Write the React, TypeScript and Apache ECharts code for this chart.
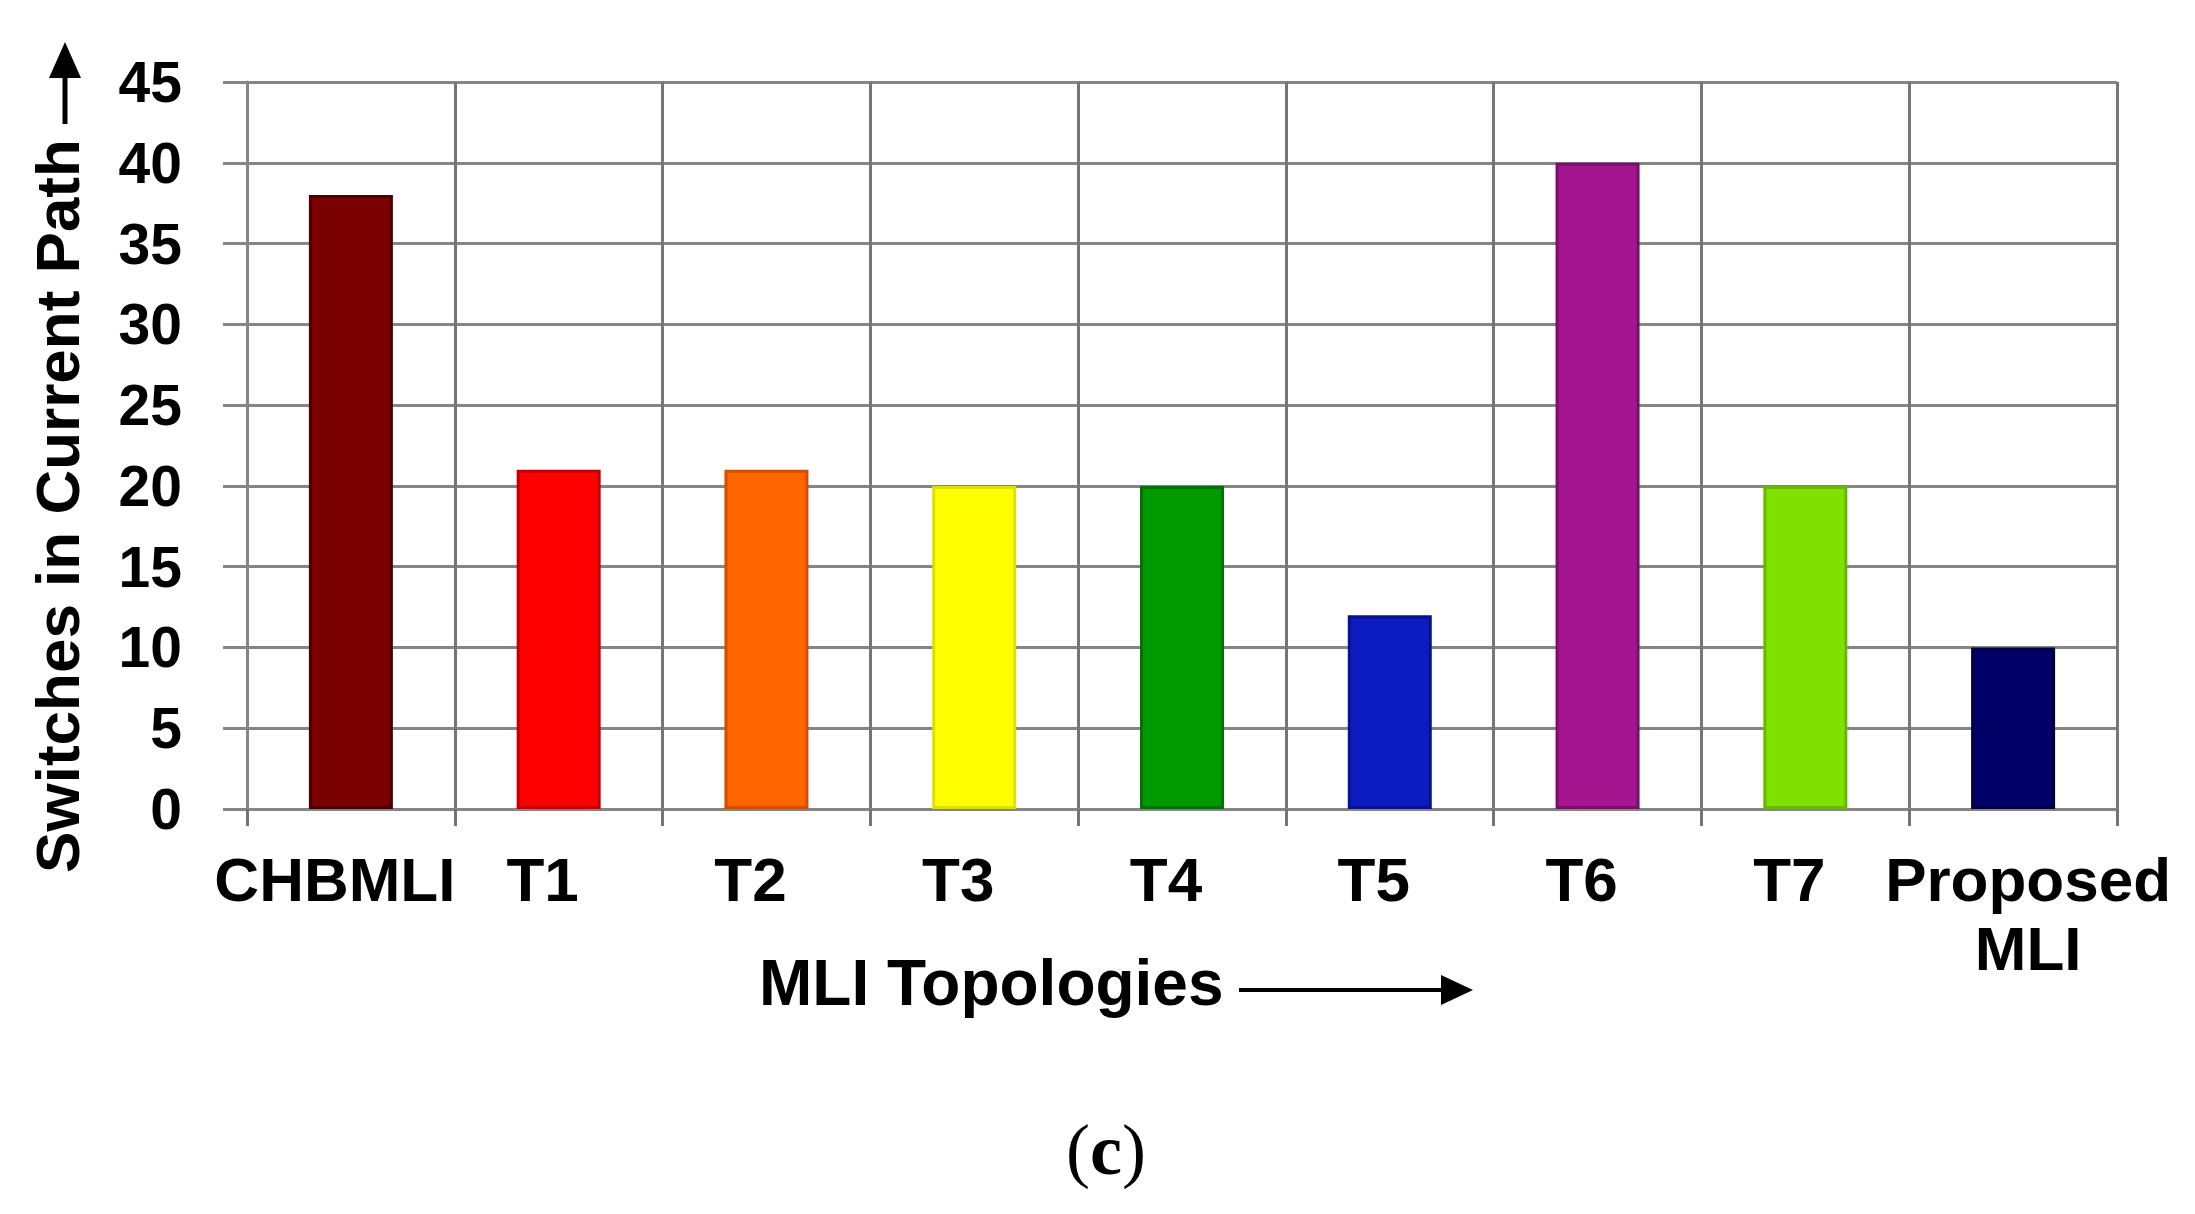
import React, { useEffect, useRef } from "react";
import * as echarts from "echarts";

const categories = ["CHBMLI", "T1", "T2", "T3", "T4", "T5", "T6", "T7", "Proposed\nMLI"];
const switchCounts = [38, 21, 21, 20, 20, 12, 40, 20, 10];
const barColors = ["#7b0000", "#ff0000", "#ff6600", "#ffff00", "#009a00", "#0d1cc0", "#a3168f", "#80e000", "#000066"];
const barBorders = ["#4a0000", "#c00000", "#d05000", "#e0e000", "#007000", "#08128a", "#7a0f6b", "#66b800", "#000040"];
const yMin = 0;
const yMax = 45;
const yStep = 5;
const yTitle = "Switches in Current Path";
const xTitle = "MLI Topologies";

export default function App() {
  const ref = useRef<HTMLDivElement>(null);
  useEffect(() => {
    if (!ref.current) return;
    const chart = echarts.init(ref.current, null, { renderer: "svg" });
    const grid = "#858585";
    chart.setOption({
      animation: false,
      backgroundColor: "#ffffff",
      grid: { left: 247, right: 78, top: 82, bottom: 405, containLabel: false },
      xAxis: {
        type: "category",
        data: categories.map((c, i) => ({
          value: c,
          textStyle: { padding: i === categories.length - 1 ? [0, 0, 0, 30] : [0, 32, 0, 0] },
        })),
        boundaryGap: true,
        axisLine: { show: true, lineStyle: { color: grid, width: 3 } },
        axisTick: { show: true, length: 17, lineStyle: { color: "#747474", width: 3 } },
        splitLine: { show: true, lineStyle: { color: "#767676", width: 3 } },
        axisLabel: {
          interval: 0,
          margin: 36,
          color: "#000",
          fontFamily: "Liberation Sans",
          fontWeight: "bold",
          fontSize: 62,
          lineHeight: 69,
        },
      },
      yAxis: {
        type: "value",
        min: yMin,
        max: yMax,
        interval: yStep,
        axisLine: { show: true, lineStyle: { color: grid, width: 3 } },
        axisTick: { show: true, length: 24, lineStyle: { color: grid, width: 3 } },
        splitLine: { show: true, lineStyle: { color: grid, width: 3 } },
        axisLabel: {
          margin: 65,
          color: "#000",
          fontFamily: "Liberation Sans",
          fontWeight: "bold",
          fontSize: 57,
        },
      },
      series: [
        {
          type: "bar",
          barWidth: 84,
          data: switchCounts.map((v, i) => ({
            value: v,
            itemStyle: { color: barColors[i], borderColor: barBorders[i], borderWidth: 3 },
          })),
        },
      ],
      graphic: [
        {
          type: "text",
          x: 57,
          y: 506,
          rotation: Math.PI / 2,
          style: {
            text: yTitle,
            font: 'bold 62px "Liberation Sans"',
            fill: "#000",
            textAlign: "center",
            textVerticalAlign: "middle",
          },
        },
        { type: "line", shape: { x1: 65, y1: 124, x2: 65, y2: 70 }, style: { stroke: "#000", lineWidth: 5 } },
        { type: "polygon", shape: { points: [[65, 42], [49, 78], [81, 78]] }, style: { fill: "#000" } },
        {
          type: "text",
          x: 759,
          y: 983,
          style: {
            text: xTitle,
            font: 'bold 64px "Liberation Sans"',
            fill: "#000",
            textAlign: "left",
            textVerticalAlign: "middle",
          },
        },
        { type: "line", shape: { x1: 1239, y1: 990, x2: 1450, y2: 990 }, style: { stroke: "#000", lineWidth: 4 } },
        { type: "polygon", shape: { points: [[1473, 990], [1441, 975], [1441, 1005]] }, style: { fill: "#000" } },
        {
          type: "text",
          x: 1106,
          y: 1150,
          style: {
            text: "{p|(}{b|c}{p|)}",
            textAlign: "center",
            textVerticalAlign: "middle",
            fill: "#000",
            rich: {
              p: { fontFamily: "Liberation Serif", fontSize: 72, fill: "#000" },
              b: { fontFamily: "Liberation Serif", fontSize: 72, fontWeight: "bold", fill: "#000" },
            },
          },
        },
      ],
    });
    return () => chart.dispose();
  }, []);
  return (
    <div
      ref={ref}
      style={{ position: "fixed", left: 0, top: 0, width: 2195, height: 1214, background: "#fff" }}
    />
  );
}
